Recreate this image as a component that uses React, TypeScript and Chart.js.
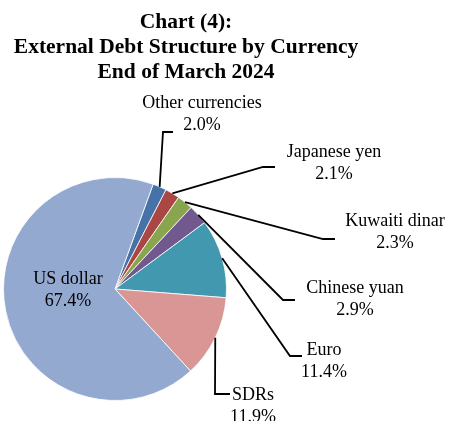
import { useEffect, useRef } from "react";
import { Chart, registerables } from "chart.js";

Chart.register(...registerables);

// ---- data ----
const categories = [
  "Other currencies",
  "Japanese yen",
  "Kuwaiti dinar",
  "Chinese yuan",
  "Euro",
  "SDRs",
  "US dollar",
];
const shares = [2.0, 2.1, 2.3, 2.9, 11.4, 11.9, 67.4];
const titleLines = [
  "Chart (4):",
  "External Debt Structure by Currency",
  "End of March 2024",
];

// ---- styles / layout ----
const sliceColors = [
  "#4572A7",
  "#AA4643",
  "#89A54E",
  "#71588F",
  "#4198AF",
  "#D99694",
  "#94A9D0",
];
const FONT = "'Liberation Serif', 'Times New Roman', serif";

// label text centre (first line), leader-line elbow, end x of the short horizontal segment
const labelLayout: { x: number; y: number; elbow: [number, number] | null; endX: number }[] = [
  { x: 202, y: 103, elbow: [163, 132], endX: 173 },
  { x: 334, y: 152, elbow: [263, 167], endX: 275 },
  { x: 395, y: 221, elbow: [323, 239], endX: 335 },
  { x: 355, y: 288, elbow: [283, 300], endX: 295 },
  { x: 324, y: 350, elbow: [290, 356], endX: 302 },
  { x: 253, y: 395, elbow: [215, 394], endX: 230 },
  { x: 68, y: 279, elbow: null, endX: 0 },
];

const labelsPlugin = {
  id: "pieLabels",
  afterDraw(chart: any) {
    const ctx: CanvasRenderingContext2D = chart.ctx;
    ctx.save();
    // title
    ctx.fillStyle = "#000";
    ctx.textAlign = "center";
    ctx.textBaseline = "middle";
    ctx.font = `bold 21.5px ${FONT}`;
    titleLines.forEach((t, i) => ctx.fillText(t, 186, 22 + i * 25));

    const meta = chart.getDatasetMeta(0);
    ctx.font = `18px ${FONT}`;
    ctx.strokeStyle = "#000";
    ctx.lineWidth = 1.8;
    meta.data.forEach((arc: any, i: number) => {
      const L = labelLayout[i];
      const p = arc.getProps(["x", "y", "startAngle", "endAngle", "outerRadius"], true);
      const mid = (p.startAngle + p.endAngle) / 2;
      if (L.elbow) {
        const ax = p.x + Math.cos(mid) * p.outerRadius;
        const ay = p.y + Math.sin(mid) * p.outerRadius;
        ctx.beginPath();
        ctx.moveTo(ax, ay);
        ctx.lineTo(L.elbow[0], L.elbow[1]);
        ctx.lineTo(L.endX, L.elbow[1]);
        ctx.stroke();
      }
      ctx.fillText(categories[i], L.x, L.y);
      ctx.fillText(`${shares[i].toFixed(1)}%`, L.x, L.y + 22);
    });
    ctx.restore();
  },
};

export default function App() {
  const ref = useRef<HTMLCanvasElement | null>(null);
  useEffect(() => {
    document.body.style.margin = "0";
    if (!ref.current) return;
    const chart = new Chart(ref.current, {
      type: "pie",
      data: {
        labels: categories,
        datasets: [
          {
            data: shares,
            backgroundColor: sliceColors,
            borderColor: "rgba(255,255,255,0.8)",
            borderWidth: 1,
          },
        ],
      },
      options: {
        responsive: false,
        animation: false,
        rotation: 20,
        layout: { padding: { left: 3, right: 222, top: 177, bottom: 20 } },
        plugins: {
          legend: { display: false },
          tooltip: { enabled: false },
          title: { display: false },
        },
      },
      plugins: [labelsPlugin],
    });
    return () => chart.destroy();
  }, []);
  return (
    <div style={{ width: 449, height: 421, background: "#fff" }}>
      <canvas ref={ref} width={449} height={421} />
    </div>
  );
}
